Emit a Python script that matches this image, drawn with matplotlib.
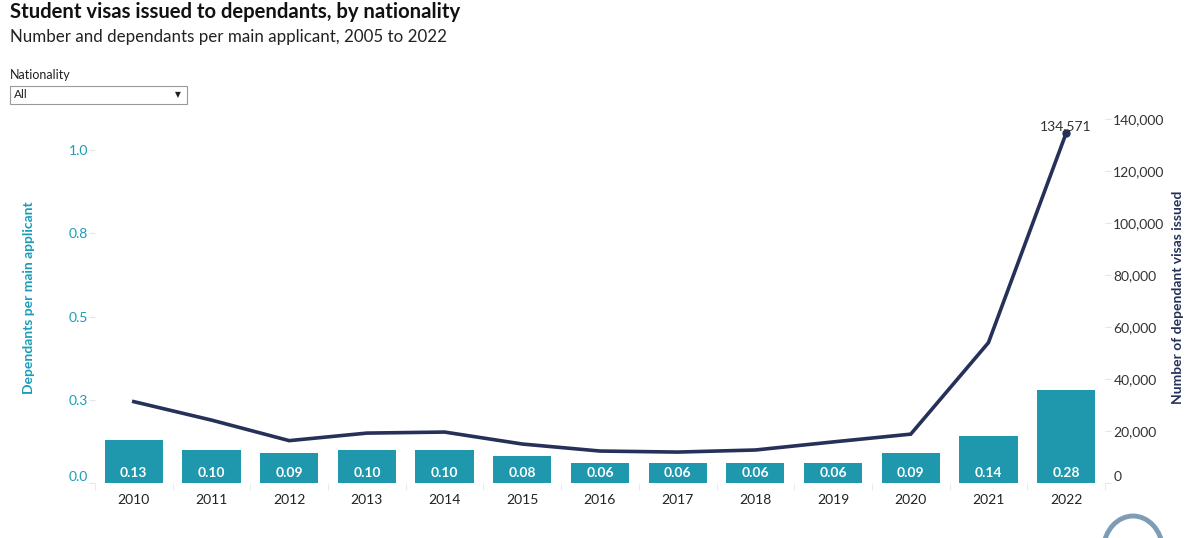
import numpy as np
import matplotlib.pyplot as plt
from matplotlib.patches import Rectangle, Arc
from matplotlib.ticker import FuncFormatter

years = ['2010', '2011', '2012', '2013', '2014', '2015', '2016',
         '2017', '2018', '2019', '2020', '2021', '2022']
per_applicant = [0.13, 0.10, 0.09, 0.10, 0.10, 0.08, 0.06,
                 0.06, 0.06, 0.06, 0.09, 0.14, 0.28]
dependant_visas = [31300, 24200, 16300, 19200, 19600, 15000, 12300,
                   11900, 12700, 15800, 18800, 54000, 134571]

BAR_C = '#1f97ad'
LINE_C = '#253158'
TEAL_TXT = '#1a9db8'

plt.rcParams['font.family'] = ['Lato', 'DejaVu Sans']

fig = plt.figure(figsize=(11.96, 5.38), dpi=100)
ax = fig.add_axes([0.0794, 0.1022, 0.8445, 0.6896])
ax2 = ax.twinx()

x = np.arange(len(years))
ax.bar(x, per_applicant, width=0.75, color=BAR_C, zorder=2)
for xi, v in zip(x, per_applicant):
    ax.text(xi, 0.03, f'{v:.2f}', ha='center', va='center', color='white',
            fontsize=10, fontweight='bold')

ax2.plot(x, dependant_visas, color=LINE_C, lw=2.6, solid_joinstyle='miter')
ax2.plot(x[-1], dependant_visas[-1], 'o', color=LINE_C, ms=5)
ax2.annotate(f'{dependant_visas[-1]:,}', (x[-1], dependant_visas[-1]),
             xytext=(0, 1), textcoords='offset points', ha='center',
             va='bottom', color='#333333', fontsize=10)

ax.set_xlim(-0.5, len(years) - 0.5)
ax.set_ylim(0, 1.115)
ax2.set_ylim(0, 142700)

ax.set_yticks([0, 0.25, 0.5, 0.75, 1.0])
ax.set_yticklabels(['0.0', '0.3', '0.5', '0.8', '1.0'])
ax2.set_yticks(np.arange(0, 140001, 20000))
ax2.yaxis.set_major_formatter(FuncFormatter(lambda v, p: f'{int(v):,}'))

ax.set_xticks(x)
ax.set_xticklabels(years)
ax.set_xticks(np.arange(-0.5, len(years), 1), minor=True)
ax.tick_params(axis='x', which='major', length=0, pad=8, labelsize=10,
               labelcolor='#222222')
ax.tick_params(axis='x', which='minor', length=5, color='#e6e6e6',
               direction='out')
ax.tick_params(axis='y', length=4, color='#e6e6e6', labelsize=10,
               labelcolor=TEAL_TXT, pad=1)
ax2.tick_params(axis='y', length=4, color='#e6e6e6', labelsize=10,
                labelcolor='#333333', pad=2)
ax.get_yticklabels()[0].set_va('bottom')
ax2.get_yticklabels()[0].set_va('bottom')

for a in (ax, ax2):
    for s in a.spines.values():
        s.set_visible(False)

ax.set_ylabel('Dependants per main applicant', color=TEAL_TXT,
              fontsize=10, fontweight='bold', labelpad=24)
ax2.set_ylabel('Number of dependant visas issued', color=LINE_C,
               fontsize=10, fontweight='bold', labelpad=5)

# titles
fig.text(10 / 1196, 1 - 12 / 538, 'Student visas issued to dependants, by nationality',
         fontsize=14.6, fontweight='bold', color='#111111', va='center')
fig.text(10 / 1196, 1 - 37 / 538, 'Number and dependants per main applicant, 2005 to 2022',
         fontsize=12.2, color='#222222', va='center')

# filter control
fig.text(10 / 1196, 1 - 75 / 538, 'Nationality', fontsize=9, color='#222222',
         va='center')
fig.patches.append(Rectangle((10 / 1196, 1 - 104 / 538), 177 / 1196, 18 / 538,
                             transform=fig.transFigure, facecolor='white',
                             edgecolor='#999999', lw=0.8))
fig.text(14 / 1196, 1 - 95 / 538, 'All', fontsize=8.5, color='#222222',
         va='center')
fig.text(178 / 1196, 1 - 95 / 538, '\u25BC', fontsize=5.5, color='#222222',
         va='center', ha='center', family='DejaVu Sans')

# logo fragment at bottom right
fig.patches.append(Arc((1133 / 1196, 1 - 552 / 538), 60 / 1196, 72 / 538,
                       theta1=15, theta2=165, transform=fig.transFigure,
                       color='#2a5a86', lw=3.5, alpha=0.6))

fig.savefig('out.png', dpi=100)
